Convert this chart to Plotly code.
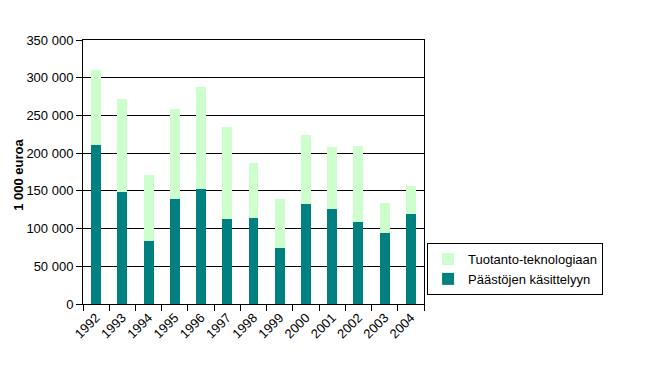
import plotly.graph_objects as go

years = ["1992", "1993", "1994", "1995", "1996", "1997", "1998", "1999",
         "2000", "2001", "2002", "2003", "2004"]
paastojen = [211000, 148500, 83500, 139200, 152500, 112700, 114000, 74200,
             132600, 126000, 108700, 94100, 119300]
tuotanto = [99000, 123500, 87500, 119300, 135200, 122000, 72900, 65000,
            91400, 82100, 100800, 39800, 37100]
y_ticks = [0, 50000, 100000, 150000, 200000, 250000, 300000, 350000]

fig = go.Figure()
fig.add_trace(go.Bar(x=years, y=paastojen, name="Päästöjen käsittelyyn",
                     marker=dict(color="#008080", line=dict(width=0))))
fig.add_trace(go.Bar(x=years, y=tuotanto, name="Tuotanto-teknologiaan",
                     marker=dict(color="#CCFFCC", line=dict(width=0))))

fig.update_layout(
    width=646, height=371,
    barmode="stack", bargap=0.62,
    separators=", ",
    margin=dict(l=75, r=230, t=32, b=75, autoexpand=False),
    paper_bgcolor="white", plot_bgcolor="white",
    font=dict(family="Liberation Sans, Arial", size=13, color="black"),
    legend=dict(x=1.009, y=0.231, xanchor="left", yanchor="top",
                traceorder="reversed", bordercolor="black", borderwidth=1,
                font=dict(size=13), bgcolor="white", itemwidth=30,
                tracegroupgap=0),
    xaxis=dict(type="category", tickangle=-45, tickson="boundaries",
               ticks="outside", ticklen=6, tickcolor="black",
               showline=True, linecolor="black", linewidth=1, mirror=True,
               showgrid=False, tickfont=dict(size=13), automargin=False),
    yaxis=dict(range=[0, 350000], tickvals=y_ticks, tickformat=",d",
               ticks="outside", ticklen=6, tickcolor="black",
               showline=True, linecolor="black", linewidth=1, mirror=True,
               showgrid=True, gridcolor="black", gridwidth=1,
               zeroline=False, automargin=False,
               tickfont=dict(size=13)),
    annotations=[dict(text="<b>1 000 euroa</b>", textangle=-90,
                      xref="paper", yref="paper", x=-0.19, y=0.49,
                      xanchor="center", yanchor="middle", showarrow=False,
                      font=dict(size=13))],
)

fig.write_html("out.html")
